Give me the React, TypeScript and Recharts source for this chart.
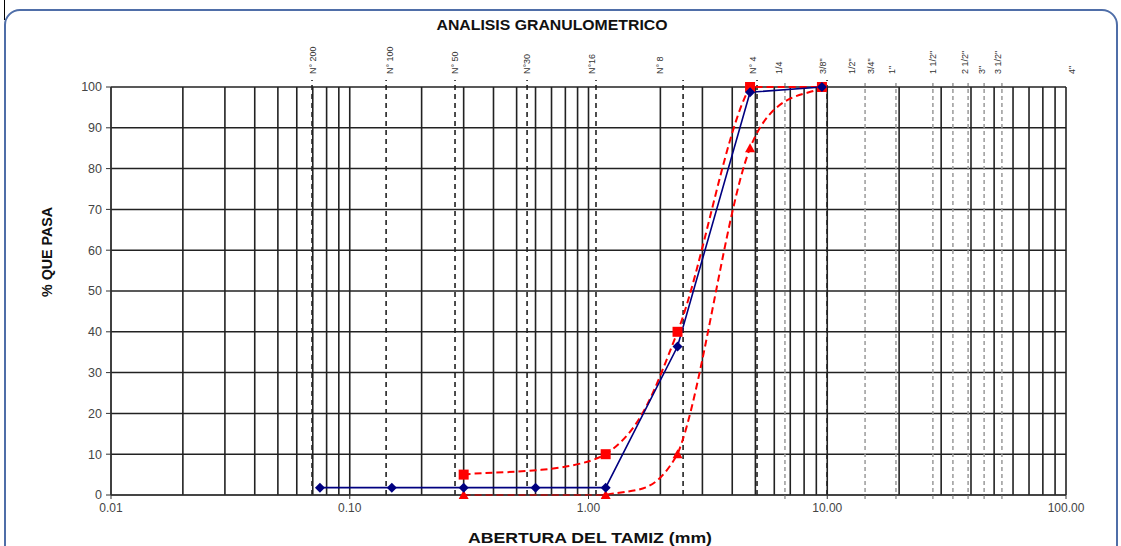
import React from "react";
import {
  ComposedChart,
  Line,
  XAxis,
  YAxis,
  CartesianGrid,
  ReferenceLine,
  ReferenceDot,
} from "recharts";

// sieve openings (mm) and % passing
const sampleSizes = [0.075, 0.15, 0.3, 0.6, 1.18, 2.36, 4.75, 9.5];
const samplePassing = [1.8, 1.8, 1.8, 1.8, 1.8, 36.4, 98.7, 100];

const limitSizes = [0.3, 1.18, 2.36, 4.75, 9.5];
const upperLimit = [5, 10, 40, 100, 100];
const lowerLimit = [0, 0, 10, 85, 100];

// dashed marker lines as drawn on the sheet
const sieveLineSizes = [0.0695, 0.142, 0.276, 0.553, 1.075, 2.49, 5.08, 9.98];
const coarseLineSizes = [6.65, 14.4, 19.4, 27.7, 33.6, 38.9, 45.4, 53.9];

const sieveLabels = [
  "N° 200", "N° 100", "N° 50", "N°30", "N°16", "N° 8", "N° 4", "1/4", "3/8\"",
  "1/2\"", "3/4\"", "1\"", "1 1/2\"", "2 1/2\"", "3\"", "3 1/2\"", "4\"",
];
const sieveLabelSizes = [
  0.0703, 0.1475, 0.276, 0.553, 1.034, 1.99, 4.89, 6.28, 9.6,
  12.7, 15.25, 18.7, 27.7, 37.8, 44.5, 51.9, 106,
];

const xTicks = [0.01, 0.1, 1, 10, 100];
const yTicks = [0, 10, 20, 30, 40, 50, 60, 70, 80, 90, 100];

const gridSizes: number[] = [];
[0.01, 0.1, 1, 10].forEach((d) => {
  for (let i = 1; i <= 9; i++) gridSizes.push(+(d * i).toPrecision(3));
});
gridSizes.push(100);

const sampleData = sampleSizes.map((size, i) => ({ size, pct: samplePassing[i] }));
const upperData = limitSizes.map((size, i) => ({ size, pct: upperLimit[i] }));
const lowerData = limitSizes.map((size, i) => ({ size, pct: lowerLimit[i] }));

// Excel-like smoothed line (Catmull-Rom), kept inside the 0-100 band
const smoothCurve = (context: any) => {
  let pts: number[][] = [];
  return {
    areaStart() {},
    areaEnd() {},
    lineStart() {
      pts = [];
    },
    point(x: number, y: number) {
      pts.push([+x, +y]);
    },
    lineEnd() {
      if (!pts.length) return;
      const ys = pts.map((p) => p[1]);
      const lo = Math.min(...ys);
      const hi = Math.max(...ys);
      const cl = (v: number) => Math.max(lo, Math.min(hi, v));
      context.moveTo(pts[0][0], pts[0][1]);
      for (let i = 0; i < pts.length - 1; i++) {
        const p0 = pts[i - 1] || pts[i];
        const p1 = pts[i];
        const p2 = pts[i + 1];
        const p3 = pts[i + 2] || p2;
        context.bezierCurveTo(
          p1[0] + (p2[0] - p0[0]) / 6,
          cl(p1[1] + (p2[1] - p0[1]) / 6),
          p2[0] - (p3[0] - p1[0]) / 6,
          cl(p2[1] - (p3[1] - p1[1]) / 6),
          p2[0],
          p2[1]
        );
      }
    },
  };
};

const Diamond = (props: any) => {
  const { cx, cy, index } = props;
  if (cx == null || cy == null) return <g key={index} />;
  return (
    <path
      key={index}
      d={`M${cx},${cy - 5} L${cx + 5},${cy} L${cx},${cy + 5} L${cx - 5},${cy} Z`}
      fill="#000080"
    />
  );
};

const Square = (props: any) => {
  const { cx, cy, index } = props;
  if (cx == null || cy == null) return <g key={index} />;
  return <rect key={index} x={cx - 5} y={cy - 5} width={10} height={10} fill="#ff0000" />;
};

const Triangle = (props: any) => {
  const { cx, cy, index } = props;
  if (cx == null || cy == null) return <g key={index} />;
  return (
    <path
      key={index}
      d={`M${cx},${cy - 5} L${cx + 5},${cy + 4} L${cx - 5},${cy + 4} Z`}
      fill="#ff0000"
    />
  );
};

const sieveLabelShape = (text: string) => (props: any) => {
  const { cx } = props;
  if (cx == null) return <g />;
  return (
    <text
      transform={`translate(${cx + 3},74) rotate(-90)`}
      textAnchor="start"
      fontSize={9}
      fill="#333"
    >
      {text}
    </text>
  );
};

export default function App() {
  return (
    <div
      style={{
        position: "absolute",
        left: 0,
        top: 0,
        width: 1121,
        height: 546,
        overflow: "hidden",
        background: "#fff",
        fontFamily: "'Liberation Sans', Arial, sans-serif",
      }}
    >
      <div
        style={{
          position: "absolute",
          left: 4,
          top: 9,
          width: 1110,
          height: 560,
          border: "2px solid #4f6ea8",
          borderRadius: 16,
        }}
      />
      <div style={{ position: "absolute", left: 4, top: 0, width: 1, height: 20, background: "#000" }} />

      <div style={{ position: "absolute", left: 0, top: 0 }}>
        <ComposedChart
          width={1121}
          height={546}
          margin={{ top: 87, right: 55, bottom: 21, left: 51 }}
        >
          <CartesianGrid vertical={false} stroke="#222" strokeWidth={1.5} />
          <XAxis
            dataKey="size"
            type="number"
            scale="log"
            domain={[0.01, 100]}
            allowDataOverflow
            ticks={xTicks}
            interval={0}
            tickFormatter={(v: number) => v.toFixed(2)}
            tick={{ fontSize: 12, fill: "#444" }}
            tickSize={4}
            tickMargin={4}
            stroke="#333"
            height={30}
          />
          <YAxis
            type="number"
            domain={[0, 100]}
            ticks={yTicks}
            interval={0}
            tick={{ fontSize: 12.5, fill: "#444" }}
            tickSize={5}
            tickMargin={4}
            stroke="#333"
            width={60}
          />

          {gridSizes.map((v) => (
            <ReferenceLine key={"g" + v} x={v} stroke="#222" strokeWidth={1.6} />
          ))}
          {coarseLineSizes.map((v) => (
            <ReferenceLine
              key={"c" + v}
              segment={[{ x: v, y: -1 }, { x: v, y: 101 }]}
              ifOverflow="visible"
              stroke="#9a9a9a"
              strokeWidth={1.5}
              strokeDasharray="4 3"
            />
          ))}
          {sieveLineSizes.map((v) => (
            <ReferenceLine
              key={"s" + v}
              segment={[{ x: v, y: 0 }, { x: v, y: 101.7 }]}
              ifOverflow="visible"
              stroke="#222"
              strokeWidth={1.6}
              strokeDasharray="5 4"
            />
          ))}
          {sieveLabelSizes.map((v, i) => (
            <ReferenceDot
              key={"l" + v}
              x={v}
              y={100}
              r={0}
              ifOverflow="visible"
              shape={sieveLabelShape(sieveLabels[i])}
            />
          ))}

          <Line
            data={upperData}
            dataKey="pct"
            type={smoothCurve as any}
            stroke="#ff0000"
            strokeWidth={2}
            strokeDasharray="7 4"
            dot={Square}
            isAnimationActive={false}
          />
          <Line
            data={lowerData}
            dataKey="pct"
            type={smoothCurve as any}
            stroke="#ff0000"
            strokeWidth={2}
            strokeDasharray="7 4"
            dot={Triangle}
            isAnimationActive={false}
          />
          <Line
            data={sampleData}
            dataKey="pct"
            type="linear"
            stroke="#000080"
            strokeWidth={1.6}
            dot={Diamond}
            isAnimationActive={false}
          />
        </ComposedChart>
      </div>

      <svg
        width={1121}
        height={546}
        style={{ position: "absolute", left: 0, top: 0, pointerEvents: "none" }}
      >
        <text
          x={552}
          y={30}
          textAnchor="middle"
          fontSize={15}
          fontWeight="bold"
          fill="#111"
          textLength={231}
          lengthAdjust="spacingAndGlyphs"
        >
          ANALISIS GRANULOMETRICO
        </text>
        <text
          x={590}
          y={543}
          textAnchor="middle"
          fontSize={15}
          fontWeight="bold"
          fill="#111"
          textLength={244}
          lengthAdjust="spacingAndGlyphs"
        >
          ABERTURA DEL TAMIZ (mm)
        </text>
        <text
          transform="translate(52,252) rotate(-90)"
          textAnchor="middle"
          fontSize={14}
          fontWeight="bold"
          fill="#111"
          textLength={90}
          lengthAdjust="spacingAndGlyphs"
        >
          % QUE PASA
        </text>
      </svg>
    </div>
  );
}
